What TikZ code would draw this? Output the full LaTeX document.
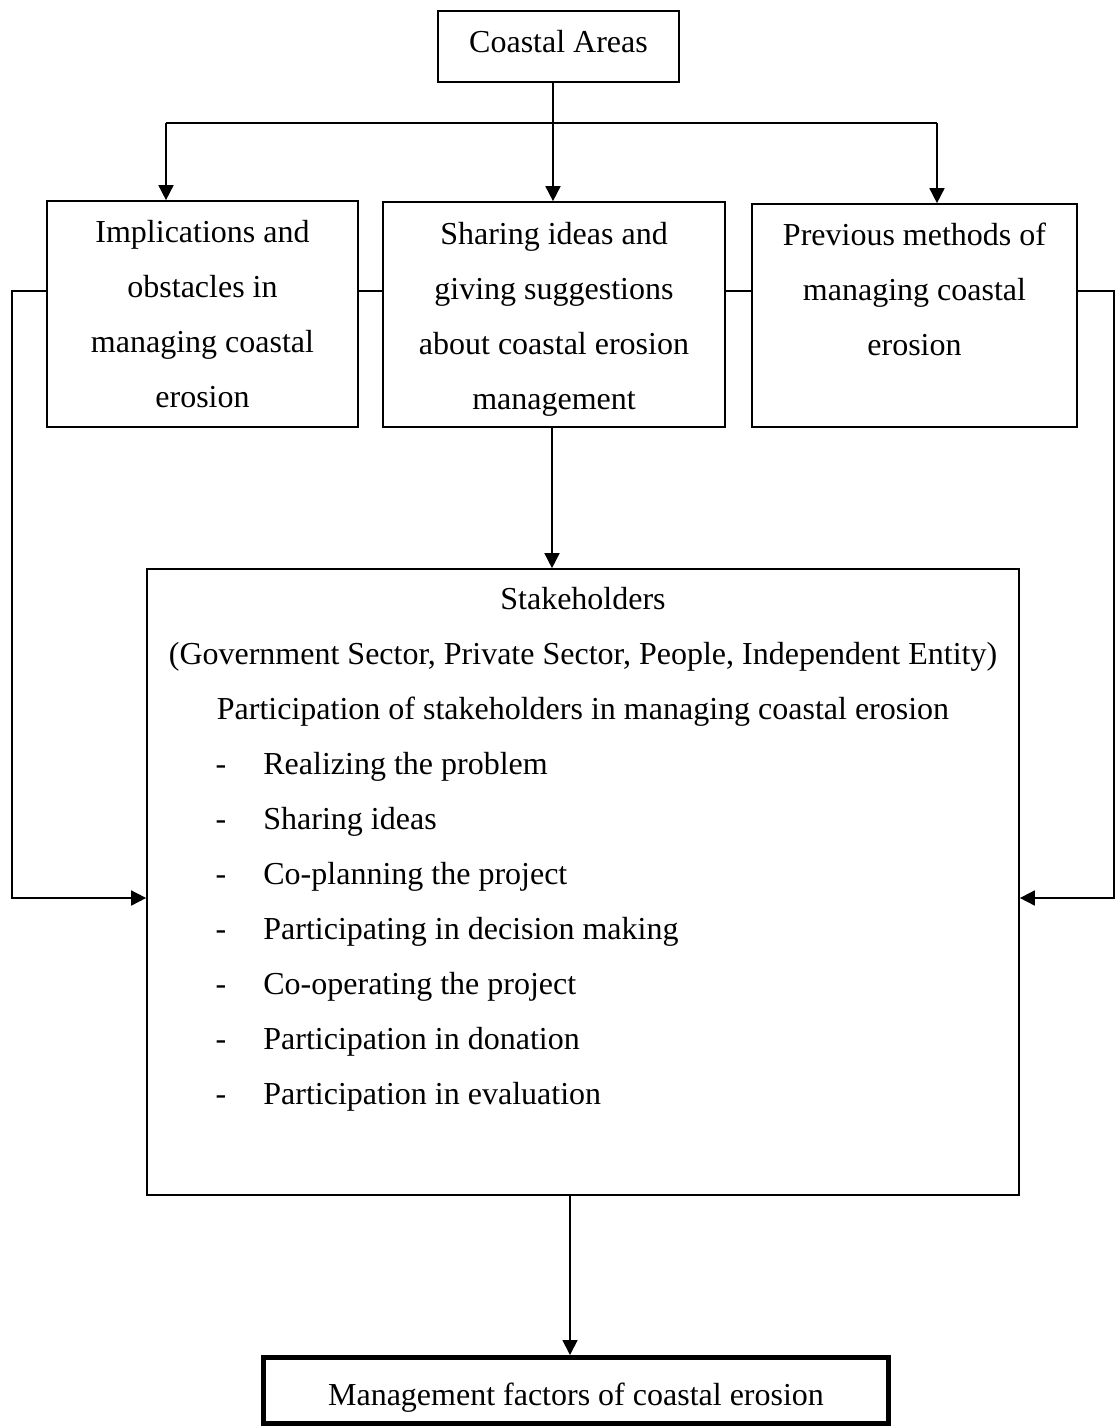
\documentclass[tikz,border=0pt]{standalone}
\usepackage{fontspec}
\setmainfont{Liberation Serif}
\usetikzlibrary{arrows.meta}
\newcommand\diagfont{\fontsize{16pt}{27.5pt}\selectfont}
\tikzset{
  conn/.style={line width=0.85pt},
  arr/.style={line width=0.85pt, -{Triangle[length=7.5pt,width=7.5pt]}},
  onebox/.style={draw, line width=0.85pt, inner sep=0pt, align=center, font=\diagfont},
  btext/.style={inner sep=0pt, align=center, font=\diagfont},
  ctext/.style={inner sep=0pt, anchor=base, font=\diagfont},
  ltext/.style={inner sep=0pt, anchor=base west, font=\diagfont},
}
\begin{document}
\begin{tikzpicture}[x=0.5pt,y=-0.5pt]
\useasboundingbox (0,0) rectangle (1115,1426);

% boxes
\node[onebox, minimum width=120.5pt, minimum height=35.5pt, text height=10pt, text depth=4.5pt] (coast) at (558.5,46.5) {Coastal Areas};
\node[onebox, minimum width=155.5pt, minimum height=113pt] (b1) at (202.5,314) {};
\node[btext] (b1t) at (202.5,314) {Implications and\\obstacles in\\managing coastal\\erosion};
\node[onebox, minimum width=171pt, minimum height=112.5pt] (b2) at (554,314.5) {};
\node[btext] (b2t) at (554,319) {Sharing ideas and\\giving suggestions\\about coastal erosion\\management};
\node[onebox, minimum width=162.5pt, minimum height=111.5pt] (b3) at (914.5,315.5) {};
\node[btext] (b3t) at (914.5,316.5) {Previous methods of\\managing coastal\\erosion\\\mbox{}};
\node[draw, line width=0.85pt, inner sep=0pt, minimum width=436pt, minimum height=313pt] (stake) at (583,882) {};
\node[onebox, line width=2.5pt, minimum width=312.5pt, minimum height=33pt, text height=16pt, text depth=1pt] (bot) at (576,1390.5) {Management factors of coastal erosion};

% stakeholder text
\node[ctext] (s1) at (583,609) {Stakeholders};
\node[ctext] (s2) at (583,664) {(Government Sector, Private Sector, People, Independent Entity)};
\node[ctext] (s3) at (583,719) {Participation of stakeholders in managing coastal erosion};
\foreach \t [count=\i from 0] in {Realizing the problem, Sharing ideas, Co-planning the project, Participating in decision making, Co-operating the project, Participation in donation, Participation in evaluation}{
  \node[ctext] (d\i) at (221,774+55*\i) {-};
  \node[ltext] (i\i) at (263,774+55*\i) {\t};
}

% top tree
\coordinate (T) at (553,123);
\coordinate (TL) at (166,123);
\coordinate (TR) at (937,123);
\draw[conn] (coast.south -| T) -- (T);
\draw[conn] (TL) -- (TR);
\draw[arr] (TL) -- (b1.north -| TL);
\draw[arr] (T) -- (b2.north -| T);
\draw[arr] (TR) -- (b3.north -| TR);

% side links
\coordinate (L1) at (12,291);
\coordinate (L2) at (12,898);
\coordinate (R1) at (1114,291);
\coordinate (R2) at (1114,898);
\draw[conn] (b1.east |- L1) -- (b2.west |- L1);
\draw[conn] (b2.east |- L1) -- (b3.west |- L1);
\draw[arr] (b1.west |- L1) -- (L1) -- (L2) -- (stake.west |- L2);
\draw[arr] (b3.east |- R1) -- (R1) -- (R2) -- (stake.east |- R2);

% vertical flow
\coordinate (V) at (552,0);
\coordinate (W) at (570,0);
\draw[arr] (b2.south -| V) -- (stake.north -| V);
\draw[arr] (stake.south -| W) -- (bot.north -| W);
\end{tikzpicture}
\end{document}
